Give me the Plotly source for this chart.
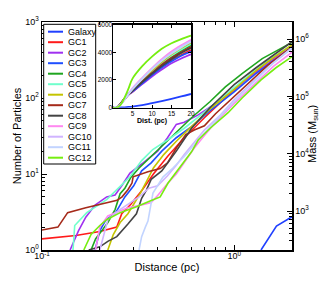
import plotly.graph_objects as go

# ---------------- data ----------------
names = ["Galaxy", "GC1", "GC2", "GC3", "GC4", "GC5", "GC6",
         "GC7", "GC8", "GC9", "GC10", "GC11", "GC12"]

# main panel: cumulative number of particles vs distance (pc)
galaxy_d = [1.38, 1.66, 1.96, 2.05]
galaxy_n = [1.0, 2.07, 2.66, 2.75]
gc1_d = [0.1, 0.15, 0.2, 0.245, 0.26, 0.29, 0.33, 0.38, 0.45, 0.55, 0.7, 0.9, 1.2, 1.5, 2.0]
gc1_n = [1.4, 1.55, 1.75, 2.0, 3.0, 4.0, 6.0, 10, 17, 30, 55, 100, 190, 300, 500]
gc2_d = [0.14, 0.155, 0.169, 0.189, 0.217, 0.24, 0.26, 0.287, 0.336, 0.4, 0.45, 0.5, 0.55, 0.65, 0.8, 1.0, 1.3, 1.6, 2.0]
gc2_n = [1.0, 1.8, 2.7, 3.9, 5.0, 5.3, 7.0, 10.3, 14, 20, 30, 45, 48, 60, 85, 130, 220, 320, 470]
gc3_d = [0.189, 0.2, 0.215, 0.24, 0.27, 0.3, 0.33, 0.37, 0.42, 0.5, 0.6, 0.75, 1.0, 1.3, 1.6, 2.0]
gc3_n = [1.0, 1.8, 2.5, 3.0, 5.0, 7.0, 11, 14, 20, 30, 42, 68, 120, 210, 310, 450]
gc4_d = [0.18, 0.19, 0.205, 0.22, 0.24, 0.255, 0.27, 0.29, 0.32, 0.37, 0.43, 0.5, 0.6, 0.75, 0.9, 1.1, 1.4, 2.0]
gc4_n = [1.0, 1.4, 1.8, 2.3, 3.4, 5.5, 6.5, 9.0, 12, 17, 25, 35, 55, 90, 140, 210, 330, 540]
gc5_d = [0.145, 0.148, 0.171, 0.217, 0.26, 0.287, 0.33, 0.377, 0.45, 0.55, 0.7, 0.9, 1.2, 1.5, 2.0]
gc5_n = [1.0, 2.1, 3.1, 4.6, 7.2, 9.2, 15, 21, 28, 40, 65, 110, 200, 310, 500]
gc6_d = [0.22, 0.235, 0.255, 0.28, 0.3, 0.324, 0.35, 0.38, 0.43, 0.5, 0.6, 0.75, 1.0, 1.3, 1.6, 2.0]
gc6_n = [1.0, 1.6, 2.3, 3.0, 4.0, 5.5, 8.0, 12, 18, 27, 42, 72, 130, 230, 340, 500]
gc7_d = [0.1, 0.121, 0.136, 0.169, 0.246, 0.261, 0.28, 0.294, 0.298, 0.356, 0.412, 0.45, 0.5, 0.56, 0.62, 0.7, 0.8, 1.0, 1.2, 1.5, 2.0]
gc7_n = [1.83, 2.0, 3.1, 3.6, 4.5, 5.0, 6.2, 7.6, 9.2, 10.7, 11.8, 14, 22, 33, 38, 43, 62, 105, 160, 270, 470]
gc8_d = [0.175, 0.2, 0.22, 0.245, 0.28, 0.31, 0.33, 0.35, 0.37, 0.42, 0.5, 0.6, 0.75, 1.0, 1.3, 1.6, 2.0]
gc8_n = [1.0, 1.1, 1.3, 1.5, 2.2, 3.0, 4.8, 6.2, 8.5, 11, 20, 40, 75, 150, 250, 370, 550]
gc9_d = [0.19, 0.2, 0.22, 0.25, 0.28, 0.33, 0.37, 0.4, 0.45, 0.5, 0.55, 0.62, 0.7, 0.8, 1.0, 1.3, 1.6, 2.0]
gc9_n = [1.0, 2.0, 2.8, 3.2, 3.6, 3.9, 4.2, 5.2, 7.5, 10, 14, 22, 32, 48, 85, 160, 260, 400]
gc10_d = [0.2, 0.22, 0.25, 0.28, 0.32, 0.36, 0.4, 0.45, 0.5, 0.55, 0.62, 0.7, 0.85, 1.0, 1.3, 1.6, 2.0]
gc10_n = [1.0, 2.5, 3.3, 4.0, 5.0, 6.5, 7.0, 9.5, 13, 18, 26, 38, 60, 95, 180, 290, 450]
gc11_d = [0.32, 0.33, 0.345, 0.356, 0.378, 0.426, 0.48, 0.55, 0.65, 0.8, 1.0, 1.3, 1.6, 2.0]
gc11_n = [1.0, 1.5, 2.0, 2.4, 5.6, 9.1, 12, 17, 28, 50, 90, 170, 290, 460]
gc12_d = [0.165, 0.18, 0.2, 0.217, 0.255, 0.31, 0.365, 0.412, 0.453, 0.48, 0.54, 0.6, 0.65, 0.75, 0.93, 1.1, 1.38, 1.65, 2.0]
gc12_n = [1.0, 1.6, 2.1, 2.5, 3.1, 3.7, 4.4, 5.0, 7.6, 9.2, 14, 19.6, 28, 40, 64, 100, 173, 250, 350]

main_d = [galaxy_d, gc1_d, gc2_d, gc3_d, gc4_d, gc5_d, gc6_d, gc7_d, gc8_d, gc9_d, gc10_d, gc11_d, gc12_d]
main_n = [galaxy_n, gc1_n, gc2_n, gc3_n, gc4_n, gc5_n, gc6_n, gc7_n, gc8_n, gc9_n, gc10_n, gc11_n, gc12_n]

# inset: cumulative number vs distance out to 20 pc
inset_d = [0, 1, 2, 3, 4, 5, 7.5, 10, 12.5, 15, 17.5, 20]
inset_galaxy = [0, 5, 15, 30, 55, 85, 180, 330, 480, 640, 810, 990]
inset_gc1 = [0, 0, 300, 650, 950, 1150, 1750, 2400, 2950, 3400, 3800, 4150]
inset_gc2 = [0, 0, 300, 650, 950, 1150, 1700, 2250, 2750, 3200, 3550, 3850]
inset_gc3 = [0, 0, 300, 650, 950, 1180, 1750, 2350, 2900, 3350, 3750, 4050]
inset_gc4 = [0, 0, 280, 650, 980, 1250, 1900, 2550, 3150, 3650, 4100, 4500]
inset_gc5 = [0, 0, 300, 680, 1000, 1280, 1950, 2600, 3200, 3750, 4200, 4600]
inset_gc6 = [0, 0, 250, 620, 1000, 1300, 2000, 2700, 3300, 3850, 4300, 4700]
inset_gc7 = [0, 0, 320, 700, 1000, 1250, 1880, 2500, 3100, 3600, 4000, 4400]
inset_gc8 = [0, 0, 280, 640, 960, 1220, 1850, 2450, 3000, 3500, 3950, 4300]
inset_gc9 = [0, 0, 250, 620, 1020, 1400, 2150, 2850, 3500, 4050, 4500, 4900]
inset_gc10 = [0, 0, 250, 620, 1000, 1350, 2100, 2800, 3420, 3950, 4400, 4800]
inset_gc11 = [0, 0, 230, 600, 990, 1330, 2080, 2770, 3380, 3900, 4350, 4750]
inset_gc12 = [0, 0, 230, 750, 1400, 2100, 3000, 3680, 4250, 4650, 4950, 5200]
inset_n = [inset_galaxy, inset_gc1, inset_gc2, inset_gc3, inset_gc4, inset_gc5, inset_gc6,
           inset_gc7, inset_gc8, inset_gc9, inset_gc10, inset_gc11, inset_gc12]

x_tickvals = [0.1, 1]
x_ticktext = ["10<sup>-1</sup>", "10<sup>0</sup>"]
y_tickvals = [1, 10, 100, 1000]
y_ticktext = ["10<sup>0</sup>", "10<sup>1</sup>", "10<sup>2</sup>", "10<sup>3</sup>"]
m_tickvals = [1e3, 1e4, 1e5, 1e6]
m_ticktext = ["10<sup>3</sup>", "10<sup>4</sup>", "10<sup>5</sup>", "10<sup>6</sup>"]
inset_xticks = [5, 10, 15, 20]
inset_yticks = [0, 2000, 4000, 6000]

# ---------------- style ----------------
colors = ["#2040ff", "#ff1a1a", "#a030f0", "#1f4fff", "#1fa51f", "#70ffcc", "#c4c400",
          "#a52a1a", "#444444", "#ff88f0", "#d0b4ff", "#c2d4ff", "#76ee10"]

W, H = 322, 281
L, R, T, B = 42, 30, 22, 31
PW, PH = W - L - R, H - T - B
FONT = "Liberation Sans"


def px(x):
    return (x - L) / PW


def py(y):
    return (T + PH - y) / PH


fig = go.Figure()

for i, nm in enumerate(names):
    fig.add_trace(go.Scatter(x=main_d[i], y=main_n[i], mode="lines", name=nm,
                             line=dict(color=colors[i], width=1.6),
                             xaxis="x", yaxis="y", showlegend=False))
# empty trace so the mass axis subplot is created
fig.add_trace(go.Scatter(x=[], y=[], xaxis="x", yaxis="y2", showlegend=False, hoverinfo="skip"))

for i, nm in enumerate(names):
    fig.add_trace(go.Scatter(x=inset_d, y=inset_n[i], mode="lines", name=nm,
                             line=dict(color=colors[i], width=1.8, shape="spline"),
                             xaxis="x3", yaxis="y3", showlegend=False))

minor_x = [0.2, 0.3, 0.4, 0.5, 0.6, 0.7, 0.8, 0.9, 2]
minor_y = [2, 3, 4, 5, 6, 7, 8, 9, 20, 30, 40, 50, 60, 70, 80, 90, 200, 300, 400, 500, 600, 700, 800, 900]
minor_m = [300, 400, 500, 600, 700, 800, 900, 2e3, 3e3, 4e3, 5e3, 6e3, 7e3, 8e3, 9e3,
           2e4, 3e4, 4e4, 5e4, 6e4, 7e4, 8e4, 9e4, 2e5, 3e5, 4e5, 5e5, 6e5, 7e5, 8e5, 9e5, 2e6]

axis_common = dict(showgrid=False, zeroline=False, showline=True, linecolor="black",
                   linewidth=1.5, ticks="inside", tickcolor="black", tickwidth=1,
                   automargin=False,
                   tickfont=dict(size=9, color="black", family=FONT))
inset_font = dict(size=6.5, color="black", family=FONT)

fig.update_layout(
    template="none",
    width=W, height=H, autosize=False,
    margin=dict(l=L, r=R, t=T, b=B, pad=0, autoexpand=False),
    paper_bgcolor="white", plot_bgcolor="white",
    font=dict(family=FONT, color="black", size=9),
    xaxis=dict(type="log", range=[-1, 0.30103], tickvals=x_tickvals, ticktext=x_ticktext,
               ticklen=5, mirror="ticks", domain=[0, 1], ticklabelstandoff=-3,
               minor=dict(tickvals=minor_x, ticklen=3, ticks="inside", tickcolor="black"),
               title=dict(text="Distance (pc)", font=dict(size=11, family=FONT), standoff=3),
               **axis_common),
    yaxis=dict(type="log", range=[0, 3], tickvals=y_tickvals, ticktext=y_ticktext,
               ticklen=5, mirror=True, domain=[0, 1],
               minor=dict(tickvals=minor_y, ticklen=3, ticks="inside", tickcolor="black"),
               title=dict(text="Number of Particles", font=dict(size=11, family=FONT), standoff=1),
               **axis_common),
    yaxis2=dict(type="log", range=[2.32, 6.297], overlaying="y", side="right", anchor="x",
                tickvals=m_tickvals, ticktext=m_ticktext, ticklen=5,
                minor=dict(tickvals=minor_m, ticklen=3, ticks="inside", tickcolor="black"),
                **axis_common),
    xaxis3=dict(domain=[px(113), px(191)], anchor="y3", range=[0, 20], tickvals=inset_xticks,
                ticklen=3, mirror="ticks", ticklabelstandoff=-1,
                title=dict(text="<b>Dist. (pc)</b>", font=dict(size=7, family=FONT), standoff=2),
                **{**axis_common, "tickfont": inset_font}),
    yaxis3=dict(domain=[py(107.7), py(24.5)], anchor="x3", range=[0, 6000], tickvals=inset_yticks,
                ticklen=3, mirror="ticks", ticklabelstandoff=-2,
                **{**axis_common, "tickfont": inset_font}),
)

# right-hand axis title (mass scale)
fig.add_annotation(xref="paper", yref="paper", x=px(313), y=py(134),
                   text="Mass (M<sub>sun</sub>)", textangle=-90, showarrow=False,
                   xanchor="center", yanchor="middle",
                   font=dict(size=11, color="black", family=FONT))

# legend box drawn by hand (compact MATLAB-style legend)
fig.add_shape(type="rect", xref="paper", yref="paper",
              x0=px(43.7), x1=px(95.7), y0=py(164), y1=py(24.3),
              line=dict(color="black", width=1), fillcolor="white", layer="above")
for i, nm in enumerate(names):
    yy = 31.7 + 10.5 * i
    fig.add_shape(type="line", xref="paper", yref="paper",
                  x0=px(48), x1=px(63), y0=py(yy), y1=py(yy),
                  line=dict(color=colors[i], width=2), layer="above")
    fig.add_annotation(xref="paper", yref="paper", x=px(65.5), y=py(yy), text=nm,
                       showarrow=False, xanchor="left", yanchor="middle",
                       font=dict(size=9, color="black", family=FONT))

fig.write_html("out.html", config={"displayModeBar": False, "staticPlot": True},
               post_script="document.body.style.margin='0';document.body.style.overflow='hidden';")
